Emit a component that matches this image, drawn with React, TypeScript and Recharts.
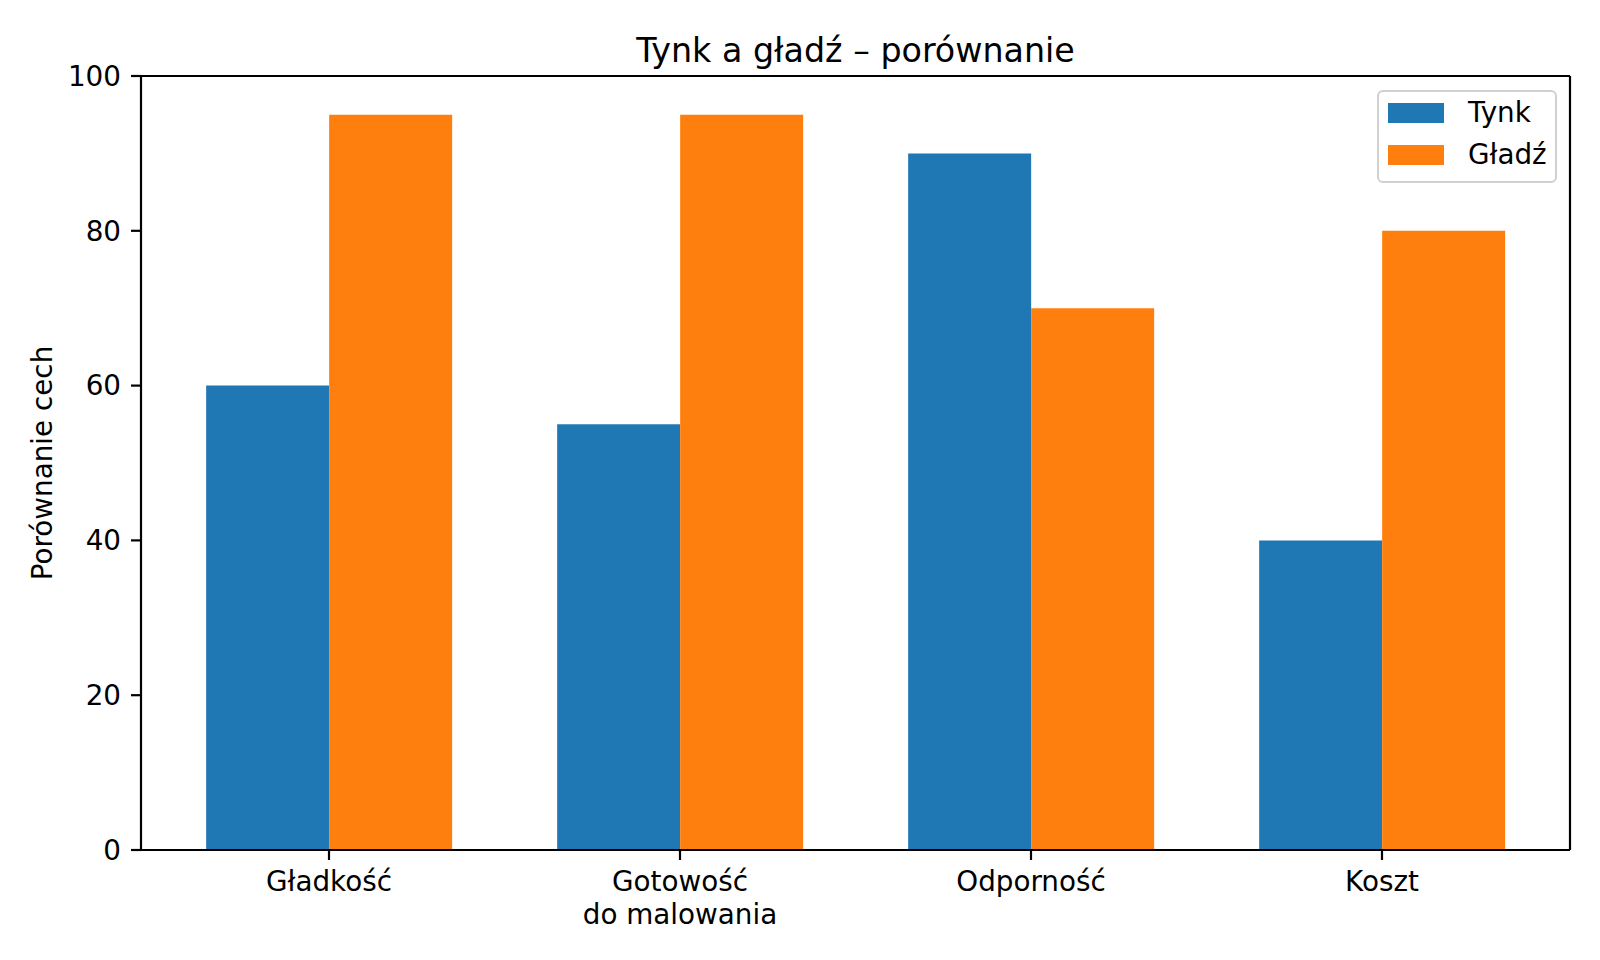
import { BarChart, Bar, XAxis, YAxis, Legend, ReferenceLine } from "recharts";

const categories = ["Gładkość", "Gotowość\ndo malowania", "Odporność", "Koszt"];
const tynk = [60, 55, 90, 40];
const gladz = [95, 95, 70, 80];
const yTicks = [0, 20, 40, 60, 80, 100];

const SERIES = [
  { key: "tynk", name: "Tynk", color: "#1f77b4" },
  { key: "gladz", name: "Gładź", color: "#ff7f0e" },
];

const FONT = "'DejaVu Sans', sans-serif";
const FS = 27.8;

const data = categories.map((c, i) => ({ name: c, tynk: tynk[i], gladz: gladz[i] }));

const renderXTick = (props: any) => {
  const { x, y, payload } = props;
  const lines = String(payload.value).split("\n");
  return (
    <g transform={`translate(${x},${y})`}>
      {lines.map((line, i) => (
        <text
          key={i}
          x={0}
          y={21 + i * 32.5}
          textAnchor="middle"
          fontFamily={FONT}
          fontSize={FS}
          fill="#000"
        >
          {line}
        </text>
      ))}
    </g>
  );
};

const renderLegend = () => (
  <div
    style={{
      position: "relative",
      width: 180,
      height: 93,
      boxSizing: "border-box",
      border: "2px solid #d0d0d0",
      borderRadius: 6,
      background: "rgba(255,255,255,0.8)",
      fontFamily: FONT,
      fontSize: FS,
    }}
  >
    {SERIES.map((s, i) => (
      <div key={s.key}>
        <div
          style={{
            position: "absolute",
            left: 9,
            top: 11 + i * 42,
            width: 56,
            height: 20,
            background: s.color,
          }}
        />
        <div
          style={{
            position: "absolute",
            left: 89,
            top: 21 + i * 42,
            transform: "translateY(-50%)",
            lineHeight: 1,
            whiteSpace: "nowrap",
          }}
        >
          {s.name}
        </div>
      </div>
    ))}
  </div>
);

export default function App() {
  return (
    <div style={{ position: "absolute", left: 0, top: 0, width: 1600, height: 960, background: "#fff" }}>
      <div
        style={{
          position: "absolute",
          left: 141,
          width: 1429,
          top: 59 - 33.3 * 0.76,
          textAlign: "center",
          fontFamily: FONT,
          fontSize: 33.3,
          lineHeight: 1,
          color: "#000",
        }}
      >
        Tynk a gładź – porównanie
      </div>
      <BarChart
        width={1600}
        height={960}
        data={data}
        margin={{ top: 76, right: 29, bottom: 0, left: 0 }}
        barCategoryGap="15%"
        barGap={0}
      >
        <XAxis
          xAxisId="b"
          dataKey="name"
          interval={0}
          height={110}
          padding={{ left: 12.5, right: 12.5 }}
          axisLine={{ stroke: "#000", strokeWidth: 2.2 }}
          tickLine={{ stroke: "#000", strokeWidth: 2.2 }}
          tickSize={10}
          tickMargin={10}
          tick={renderXTick}
        />
        <YAxis
          yAxisId="l"
          width={141}
          domain={[0, 100]}
          ticks={yTicks}
          interval={0}
          axisLine={{ stroke: "#000", strokeWidth: 2.2 }}
          tickLine={{ stroke: "#000", strokeWidth: 2.2 }}
          tickSize={10}
          tickMargin={10}
          tick={{ fontFamily: FONT, fontSize: FS, fill: "#000" }}
          label={{
            content: () => (
              <text
                transform="translate(42,463) rotate(-90)"
                textAnchor="middle"
                dominantBaseline="central"
                fontFamily={FONT}
                fontSize={FS}
                fill="#000"
              >
                Porównanie cech
              </text>
            ),
          }}
        />
        <YAxis
          yAxisId="r"
          orientation="right"
          width={1}
          domain={[0, 100]}
          ticks={yTicks}
          tick={false}
          tickLine={false}
          axisLine={{ stroke: "#000", strokeWidth: 2.2 }}
        />
        <Legend
          layout="vertical"
          align="center"
          verticalAlign="middle"
          content={renderLegend}
          wrapperStyle={{ top: 90, left: 1377, width: 180, height: 93 }}
        />
        {SERIES.map((s) => (
          <Bar
            key={s.key}
            dataKey={s.key}
            name={s.name}
            fill={s.color}
            xAxisId="b"
            yAxisId="l"
            isAnimationActive={false}
          />
        ))}
        <ReferenceLine
          y={100}
          xAxisId="b"
          yAxisId="l"
          stroke="#000"
          strokeWidth={2.2}
          ifOverflow="visible"
        />
      </BarChart>
    </div>
  );
}
